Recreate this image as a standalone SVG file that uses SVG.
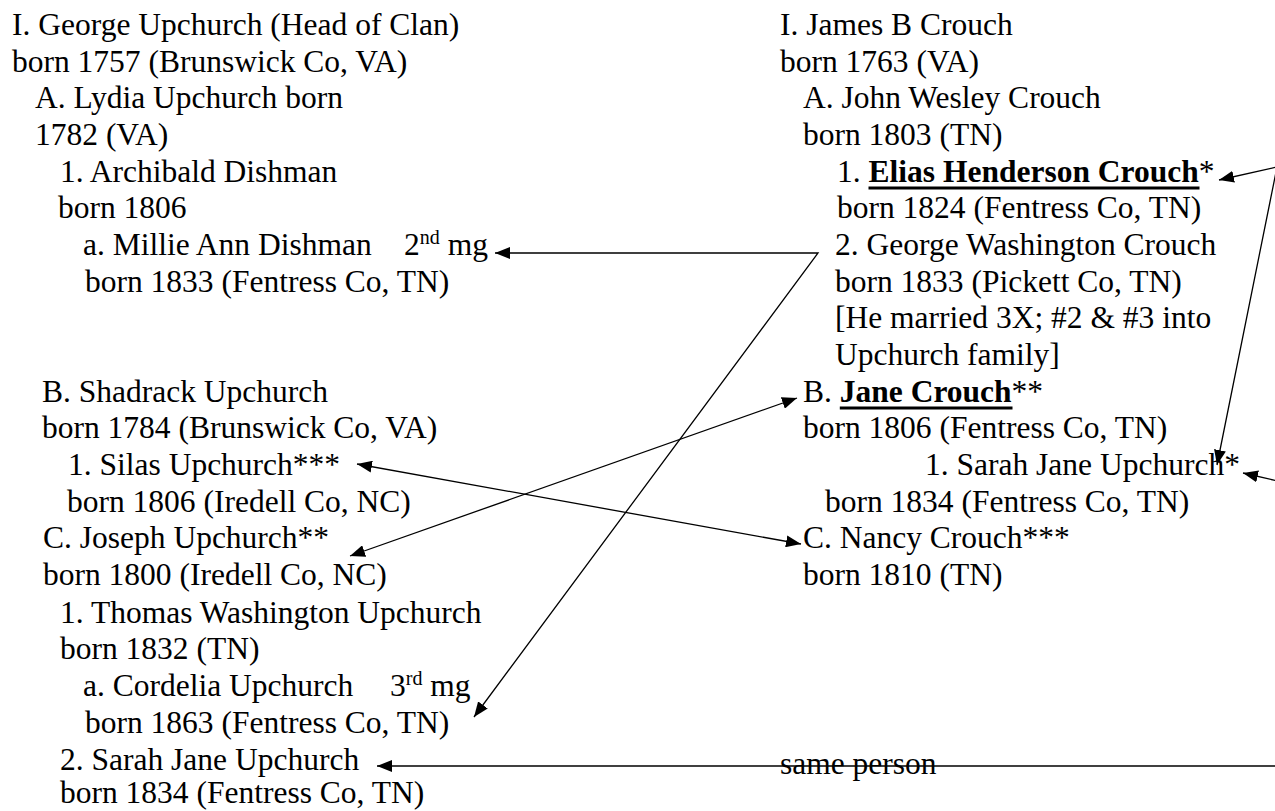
<svg xmlns="http://www.w3.org/2000/svg" width="1275" height="811" viewBox="0 0 1275 811">
<style>
  text { font-family: "Liberation Serif", "Times New Roman", serif; font-size: 31.5px; fill: #000; }
  .b { font-weight: bold; }
  .sup { font-size: 20px; }
  .ul { stroke: #000; stroke-width: 3; }
  .conn { fill: none; stroke: #000; stroke-width: 1.3; }
</style>
<defs>
  <marker id="arr" viewBox="0 0 15 12" refX="15" refY="6" markerWidth="15" markerHeight="12" markerUnits="userSpaceOnUse" orient="auto-start-reverse">
    <path d="M0,0 L15,6 L0,12 z" fill="#000"/>
  </marker>
</defs>
<rect width="1275" height="811" fill="#fff"/>

<!-- Left column: Upchurch family -->
<g id="george-upchurch">
  <text x="12" y="35">I. George Upchurch (Head of Clan)</text>
  <text x="12" y="71.7">born 1757 (Brunswick Co, VA)</text>
</g>
<g id="lydia-upchurch">
  <text x="35" y="108.3">A. Lydia Upchurch born</text>
  <text x="35" y="145">1782 (VA)</text>
</g>
<g id="archibald-dishman">
  <text x="60" y="181.7">1. Archibald Dishman</text>
  <text x="58" y="218.3">born 1806</text>
</g>
<g id="millie-ann-dishman">
  <text x="83" y="255">a. Millie Ann Dishman</text>
  <text x="404" y="255">2<tspan class="sup" dy="-11">nd</tspan><tspan dy="11"> mg</tspan></text>
  <text x="85" y="291.7">born 1833 (Fentress Co, TN)</text>
</g>
<g id="shadrack-upchurch">
  <text x="42" y="401.7">B. Shadrack Upchurch</text>
  <text x="42" y="438.3">born 1784 (Brunswick Co, VA)</text>
</g>
<g id="silas-upchurch">
  <text x="68" y="475">1. Silas Upchurch***</text>
  <text x="67" y="511.7">born 1806 (Iredell Co, NC)</text>
</g>
<g id="joseph-upchurch">
  <text x="43" y="548.3">C. Joseph Upchurch**</text>
  <text x="43" y="585">born 1800 (Iredell Co, NC)</text>
</g>
<g id="thomas-washington-upchurch">
  <text x="60" y="622.5">1. Thomas Washington Upchurch</text>
  <text x="60" y="659">born 1832 (TN)</text>
</g>
<g id="cordelia-upchurch">
  <text x="83" y="696">a. Cordelia Upchurch</text>
  <text x="390" y="696">3<tspan class="sup" dy="-11">rd</tspan><tspan dy="11"> mg</tspan></text>
  <text x="85" y="732.5">born 1863 (Fentress Co, TN)</text>
</g>
<g id="sarah-jane-upchurch-left">
  <text x="60" y="770">2. Sarah Jane Upchurch</text>
  <text x="60" y="803">born 1834 (Fentress Co, TN)</text>
</g>

<!-- Right column: Crouch family -->
<g id="james-b-crouch">
  <text x="780" y="35">I. James B Crouch</text>
  <text x="780" y="71.7">born 1763 (VA)</text>
</g>
<g id="john-wesley-crouch">
  <text x="803" y="108.3">A. John Wesley Crouch</text>
  <text x="803" y="145">born 1803 (TN)</text>
</g>
<g id="elias-henderson-crouch">
  <text x="837" y="181.7">1. <tspan class="b">Elias Henderson Crouch</tspan>*</text>
  <line class="ul" x1="868.5" y1="188" x2="1199.5" y2="188"/>
  <text x="837" y="218.3">born 1824 (Fentress Co, TN)</text>
</g>
<g id="george-washington-crouch">
  <text x="835" y="255">2. George Washington Crouch</text>
  <text x="835" y="291.7">born 1833 (Pickett Co, TN)</text>
  <text x="835" y="328.3">[He married 3X; #2 &amp; #3 into</text>
  <text x="835" y="365">Upchurch family]</text>
</g>
<g id="jane-crouch">
  <text x="803" y="401.7">B. <tspan class="b">Jane Crouch</tspan>**</text>
  <line class="ul" x1="839.8" y1="408" x2="1012.5" y2="408"/>
  <text x="803" y="438.3">born 1806 (Fentress Co, TN)</text>
</g>
<g id="sarah-jane-upchurch-right">
  <text x="925" y="475">1. Sarah Jane Upchurch*</text>
  <text x="825" y="511.7">born 1834 (Fentress Co, TN)</text>
</g>
<g id="nancy-crouch">
  <text x="803" y="548.3">C. Nancy Crouch***</text>
  <text x="803" y="585">born 1810 (TN)</text>
</g>

<!-- Connectors -->
<g id="connectors">
  <path class="conn" d="M495,253 L818,253 L474,717" marker-start="url(#arr)" marker-end="url(#arr)"/>
  <path class="conn" d="M1219,180 L1277,167 L1217,465" marker-start="url(#arr)" marker-end="url(#arr)"/>
  <path class="conn" d="M1282,482 L1243,473" marker-end="url(#arr)"/>
  <path class="conn" d="M350,556 L797,398" marker-start="url(#arr)" marker-end="url(#arr)"/>
  <path class="conn" d="M357,464 L801,544" marker-start="url(#arr)" marker-end="url(#arr)"/>
  <path class="conn" d="M1282,766 L377,766" marker-end="url(#arr)"/>
</g>
<g id="label-same-person">
  <text x="780" y="774">same person</text>
</g>
</svg>
